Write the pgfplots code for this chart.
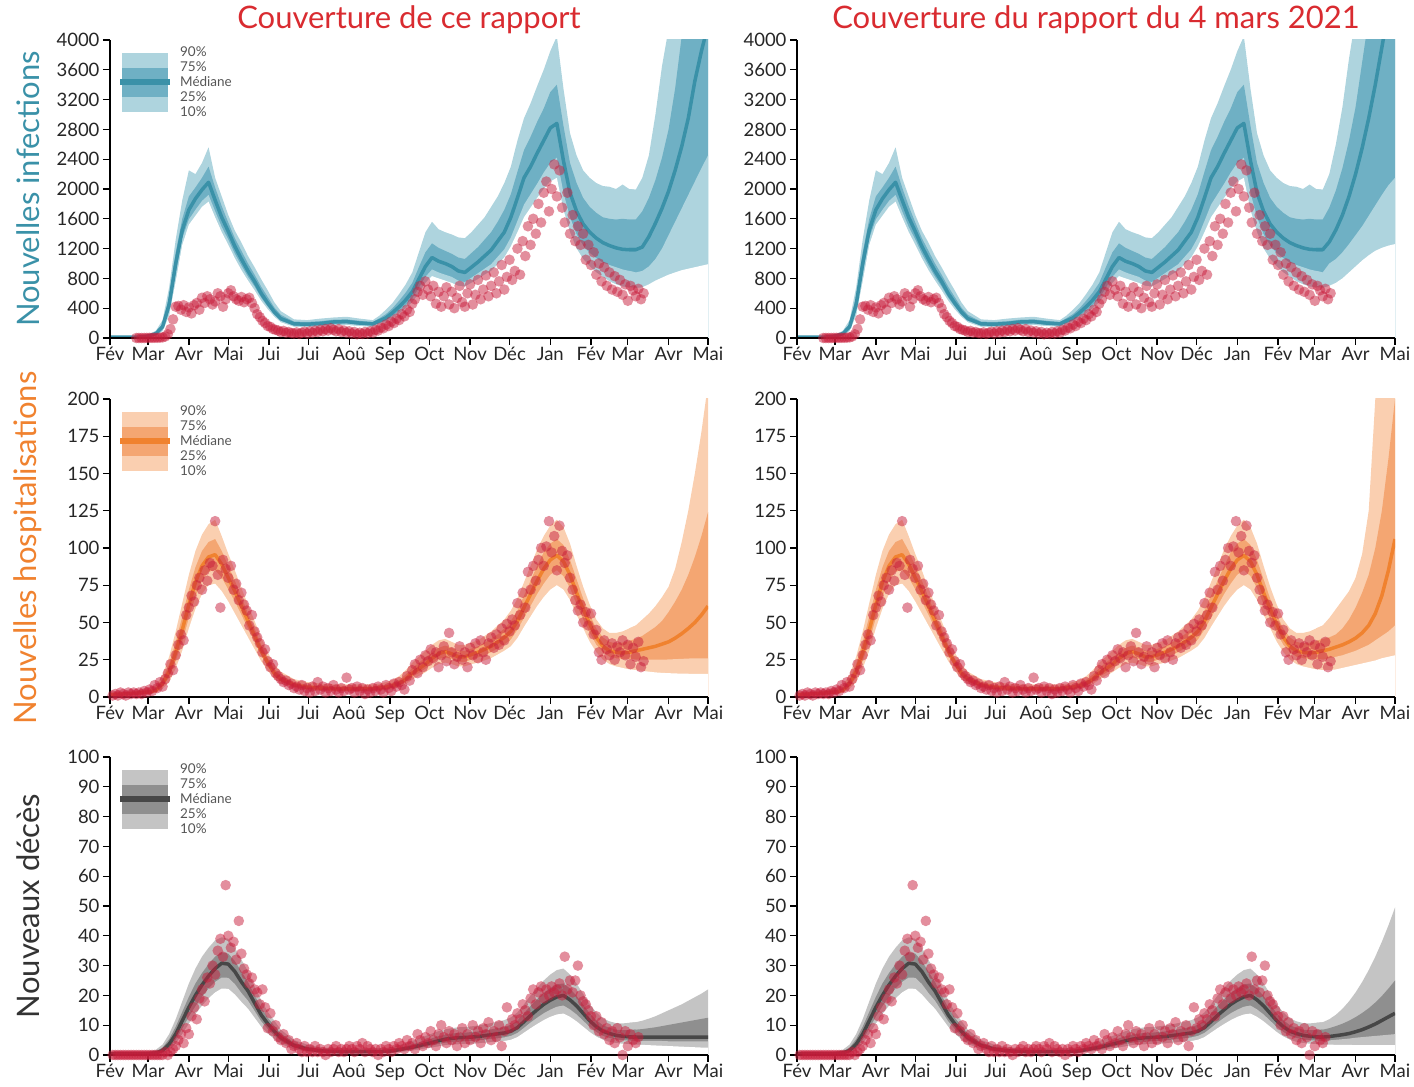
\documentclass[border=0pt]{standalone}
\usepackage{fontspec}
\setmainfont{Lato}
\usepackage{pgfplots}
\usepackage{pgfplotstable}
\pgfplotsset{compat=1.18}

\definecolor{infL}{HTML}{AED4DE}
\definecolor{infD}{HTML}{6FB0C4}
\definecolor{infM}{HTML}{3A91A8}
\definecolor{hosL}{HTML}{FACFB0}
\definecolor{hosD}{HTML}{F4A672}
\definecolor{hosM}{HTML}{F0822F}
\definecolor{decL}{HTML}{C4C4C4}
\definecolor{decD}{HTML}{8F8F8F}
\definecolor{decM}{HTML}{474747}
\definecolor{obs}{HTML}{C81E3C}
\definecolor{ttl}{HTML}{D92B30}
\definecolor{legt}{HTML}{555555}

% observed daily data (every 2 days)
\pgfplotstableread{
d inf hosp dec
2 nan 1 0
4 nan 2 0
6 nan 1 0
8 nan 3 0
10 nan 2 0
12 nan 1 0
14 nan 3 0
16 nan 2 0
18 nan 3 0
20 0 2 0
22 0 3 0
24 0 2 0
26 0 4 0
28 1 3 0
30 2 5 0
32 2 4 0
34 3 8 0
36 3 6 0
38 5 10 0
40 8 7 0
42 20 12 1
44 50 16 0
46 120 22 1
48 250 18 2
50 420 28 3
52 430 35 5
54 380 42 7
56 440 38 4
58 350 55 9
60 410 60 7
62 330 68 13
64 440 64 16
66 470 75 12
68 380 80 19
70 540 72 22
72 470 85 18
74 560 78 26
76 520 90 24
78 450 88 30
80 490 118 27
82 600 82 35
84 560 60 39
86 420 92 33
88 520 86 57
90 600 80 40
92 640 88 36
94 560 72 38
96 520 76 32
98 500 65 45
100 550 70 34
102 480 62 29
104 520 58 27
106 540 48 24
108 470 55 26
110 400 44 22
112 320 40 21
114 280 36 17
116 230 30 22
118 200 32 16
120 160 24 9
122 150 20 14
124 120 22 8
126 110 16 10
128 100 14 6
130 80 12 5
132 95 10 7
134 70 11 4
136 80 8 5
138 65 9 2
140 60 6 3
142 75 7 4
144 55 5 2
146 70 8 1
148 85 4 3
150 60 6 1
152 90 3 2
154 70 7 1
156 100 4 3
158 80 10 1
160 110 5 2
162 90 7 1
164 120 3 0
166 100 6 2
168 130 4 1
170 110 8 2
172 90 5 3
174 120 3 1
176 80 6 2
178 100 4 1
180 70 13 2
182 90 5 3
184 60 6 2
186 80 3 1
188 50 7 3
190 70 4 2
192 55 6 4
194 80 2 1
196 60 5 3
198 90 3 2
200 70 6 1
202 110 4 2
204 100 7 0
206 140 5 2
208 130 3 1
210 180 8 3
212 160 6 2
214 220 4 1
216 200 9 3
218 260 7 2
220 240 10 4
222 320 8 3
224 290 5 2
226 380 14 5
228 350 11 3
230 460 18 4
232 520 22 2
234 620 16 7
236 700 25 5
238 580 20 3
240 760 28 6
242 650 24 4
244 560 32 8
246 700 26 5
248 460 30 3
250 620 20 7
252 420 28 10
254 560 34 6
256 680 24 4
258 450 43 8
260 620 30 5
262 400 22 7
264 540 27 3
266 700 34 6
268 480 25 9
270 420 30 4
272 600 20 7
274 720 33 5
276 450 28 10
278 580 36 6
280 780 26 8
282 520 38 4
284 650 30 9
286 840 25 7
288 560 36 11
290 700 40 5
292 880 33 8
294 600 42 6
296 760 35 10
298 980 46 3
300 650 38 8
302 820 49 16
304 1050 44 9
306 780 52 12
308 900 48 10
310 1200 63 14
312 850 55 12
314 1300 70 17
316 1100 60 15
318 1500 84 13
320 1250 72 19
322 1600 88 22
324 1400 78 17
326 1800 92 21
328 1550 100 23
330 1950 88 19
332 2100 101 22
334 1700 118 20
336 2000 97 23
338 2330 108 21
340 1900 85 22
342 2250 115 24
344 1750 98 20
346 1550 90 33
348 1950 95 22
350 1400 80 25
352 1650 72 21
354 1300 65 25
356 1500 58 30
358 1250 62 20
360 1400 50 18
362 1050 57 17
364 1250 48 15
366 980 56 13
368 1150 42 10
370 850 45 13
372 1000 30 8
374 760 25 11
376 950 38 7
378 700 32 9
380 880 28 5
382 650 36 8
384 830 25 4
386 620 34 9
388 780 30 6
390 580 38 0
392 720 28 8
394 500 35 3
396 700 22 7
398 640 33 5
400 560 27 4
402 660 37 6
404 520 20 nan
406 600 24 nan
}\obs

% infections: historical bands
\pgfplotstableread{
d lo10 lo25 med hi75 hi90
0 6 8 10 12 15
10 7 9 11 13 16
20 7 9 12 15 18
25 8 10 15 20 25
30 15 20 30 40 50
35 35 45 60 80 100
40 90 115 150 190 240
45 300 360 450 560 680
50 760 860 1000 1150 1320
55 1250 1340 1450 1600 1850
60 1520 1590 1720 1900 2250
65 1640 1720 1870 2020 2200
70 1760 1840 1990 2150 2350
75 1830 1920 2090 2300 2560
80 1620 1700 1850 2020 2150
85 1420 1490 1620 1770 1900
90 1250 1320 1430 1550 1650
95 1070 1130 1230 1340 1440
100 910 970 1060 1170 1280
105 770 820 900 1000 1100
110 640 690 760 850 950
115 500 540 600 690 790
120 385 420 470 550 640
125 285 310 350 410 480
130 210 230 260 310 360
140 150 165 190 220 250
150 145 160 185 215 240
160 155 170 195 225 260
170 170 190 215 245 275
180 175 195 220 250 285
190 160 175 200 230 260
200 150 165 190 215 240
205 180 200 230 265 300
210 215 235 270 320 380
215 265 295 340 400 470
220 325 360 420 500 590
225 400 440 510 610 720
230 480 530 620 740 880
235 600 670 790 950 1150
240 740 820 960 1150 1420
245 830 920 1080 1270 1560
250 800 880 1030 1210 1460
255 770 850 1000 1170 1420
260 740 820 960 1130 1390
265 700 770 900 1080 1350
270 690 750 880 1060 1340
275 740 810 950 1140 1420
280 790 870 1020 1220 1520
285 850 930 1100 1320 1620
290 900 990 1180 1420 1760
295 990 1090 1300 1560 1900
300 1080 1190 1420 1720 2080
305 1230 1350 1620 1930 2300
310 1420 1570 1880 2230 2650
315 1620 1790 2150 2520 2950
320 1750 1930 2300 2700 3150
325 1880 2070 2480 2900 3380
330 2000 2220 2650 3080 3600
335 2100 2350 2820 3300 3850
340 2150 2420 2880 3400 4050
345 1720 1950 2380 2850 3350
350 1420 1620 1950 2350 2750
355 1200 1390 1700 2080 2450
360 1060 1240 1530 1880 2250
365 960 1140 1420 1760 2150
370 880 1070 1340 1680 2080
375 820 1010 1280 1620 2040
380 760 980 1240 1600 2030
385 720 950 1210 1590 2000
390 690 920 1190 1600 2060
395 680 900 1185 1590 2000
400 670 880 1185 1590 1990
}\infH
\pgfplotstableread{
d lo10 lo25 med hi75 hi90
395 680 900 1185 1590 2000
400 670 880 1185 1590 1990
405 680 900 1220 1700 2150
410 720 960 1360 1880 2450
415 770 1060 1540 2120 3000
420 810 1200 1740 2420 3650
425 850 1380 1970 2800 4150
430 880 1560 2250 3350 4600
435 910 1740 2570 4050 5100
440 930 1920 2950 4700 5600
445 950 2100 3450 5300 6100
450 970 2280 3850 5900 6600
455 990 2450 4200 6500 7000
}\infL
\pgfplotstableread{
d lo10 lo25 med hi75 hi90
395 680 900 1185 1590 2000
400 670 880 1185 1590 1990
405 700 1000 1290 1750 2200
410 740 1060 1450 1980 2600
415 800 1150 1650 2280 3100
420 880 1260 1900 2650 3750
425 960 1380 2200 3100 4300
430 1040 1500 2550 3700 4900
435 1110 1640 2950 4300 5500
440 1170 1780 3400 5000 6100
445 1210 1920 3900 5700 6700
450 1240 2050 4400 6400 7300
455 1260 2150 4900 7000 8000
}\infR

% hospitalisations
\pgfplotstableread{
d lo10 lo25 med hi75 hi90
0 0.5 1 1.5 2 3
10 1 1.5 2 2.5 3.5
20 1.5 2 2.5 3 4
25 1.7 2.2 3 4 5
30 2 2.6 3.5 4.5 6
35 2.8 3.5 4.5 6 8
40 5.5 7 9 12 15
45 10 13 17 22 27
50 19 24 30 37 44
55 31 37 45 54 63
60 46 53 62 72 82
65 59 67 77 87 98
70 69 78 88 98 109
75 75 84 94 104 116
80 76 85 95.5 106 119
85 71 80 89 98 108
90 64 72 80 88 96
95 56 64 71 78 85
100 48 55 61 67 73
105 40 46 51 56 62
110 32 37 41 46 51
115 24 28 31 35 40
120 17.5 20.5 23 26 30
125 12 14 16 19 22
130 9 10.5 12 14 17
140 6 7 8 10 12
150 4.5 5.5 6.5 8 10
160 4 5 6 7.5 9
170 3.8 4.5 5.5 7 8.5
180 3.8 4.5 5.5 7 8.5
190 3.8 4.5 5.5 7 8.5
200 3.8 4.5 5.5 7 8.5
205 4.2 5 6 7.5 9
210 4.6 5.5 6.5 8 10
215 5.2 6.2 7.5 9.5 11.5
220 6.3 7.5 9 11.5 14
225 8.5 10 12 15 18
230 11.5 13.5 16 19.5 23
235 14 16 19 23 27
240 16.5 19 22 26.5 31
245 19.5 22.5 26 30 35
250 22 25.5 29 33 38
255 23 26.5 30.5 34.5 39
260 22 25.5 29 33 37
265 20.5 23.5 27 31 35
270 20.5 23.5 27 31 35
275 22 25 28.5 32.5 36.5
280 23 26.5 30 34 38
285 24.5 28 32 36.5 41
290 26 30 34 39 44
295 28.5 32.5 37 42 48
300 31 35 40 46 52
305 34 38.5 44 51 58
310 39.5 45 51 58 66
315 47 53 60 68 77
320 54 61 69 78 88
325 61 69 78 88 99
330 67 76 86 97 108
335 72 82 92 103 115
340 75 85 95 106 119
345 72 81 91 102 114
350 65 73 82 92 103
355 55 62 70 79 88
360 46 52 59 66 74
365 37 43 49 55 62
370 30 35 40 46 52
375 25 30 34 40 46
380 22 27 31 37 43
385 20.5 26 30 36 43
390 19.5 25.5 29.5 36.5 44
395 18.5 25.5 30 37.5 46
400 18 25 31 39 48
}\hosH
\pgfplotstableread{
d lo10 lo25 med hi75 hi90
395 18.5 25.5 30 37.5 46
400 18 25 31 39 48
405 17.5 25 32 41 52
410 17 25 33 44 56
415 16.5 25 34 47 61
420 16.2 25 35.5 51 67
425 16 25.2 37 57 74
430 15.8 25.4 39.5 64 86
435 15.7 25.6 42.5 72 104
440 15.6 25.8 46 82 125
445 15.6 26 50 94 150
450 15.6 26 55 108 178
455 15.6 26 61 124 210
}\hosL
\pgfplotstableread{
d lo10 lo25 med hi75 hi90
395 18.5 25.5 30 37.5 46
400 18 25 31 39 48
405 18 26 32 40 53
410 18.5 27 33.5 42 59
415 19.5 28 35 46 65
420 20.5 29.5 37 52 71
425 21.5 31 39.5 60 80
430 22.5 33 43 70 96
435 23.5 35 48 82 125
440 24.5 38 56 100 200
445 26 41 68 125 260
450 27 44 85 160 300
455 28 48 106 200 340
}\hosR

% deaths
\pgfplotstableread{
d lo10 lo25 med hi75 hi90
0 0.2 0.3 0.5 0.8 1
10 0.2 0.3 0.5 0.8 1
20 0.2 0.3 0.5 0.8 1
25 0.2 0.3 0.5 0.8 1
30 0.2 0.3 0.5 0.9 1.2
35 0.2 0.4 0.7 1.2 1.8
40 0.5 0.9 1.5 2.5 3.5
45 1.6 2.3 3.6 5.3 7
50 3.8 5 7 9.5 12
55 7 8.8 11.5 14.5 18
60 10.5 12.8 16 19.5 24
65 13.7 16.3 20 24 29
70 16.5 19.5 23.5 27.5 33
75 19 22.3 26.5 30.5 36
80 21 24.5 29 33 38.5
85 22.3 26 30.8 34.5 39.5
90 22.2 25.9 30.5 34 39
95 20.3 23.8 28 31.5 36
100 17.8 20.8 24.5 28 32
105 15.5 18.2 21.5 24.5 28
110 12.5 14.8 17.5 20 23
115 9.5 11.3 13.5 16 18.5
120 7.2 8.7 10.5 12.5 14.5
125 5.3 6.5 8 9.8 11.5
130 3.7 4.6 5.8 7.2 8.5
140 1.9 2.5 3.2 4.1 5
150 1.1 1.5 2 2.7 3.5
160 0.7 1 1.4 2 2.6
170 0.5 0.8 1.2 1.7 2.3
180 0.5 0.7 1.1 1.6 2.2
190 0.5 0.7 1.1 1.6 2.2
200 0.5 0.7 1.1 1.6 2.2
205 0.55 0.75 1.15 1.7 2.3
210 0.6 0.8 1.2 1.8 2.4
215 0.7 1 1.4 2 2.7
220 1 1.3 1.8 2.5 3.3
225 1.2 1.6 2.2 3 4
230 1.5 1.9 2.6 3.6 4.7
235 1.8 2.3 3.1 4.2 5.5
240 2.2 2.8 3.7 4.9 6.4
245 2.5 3.2 4.2 5.6 7.2
250 2.9 3.7 4.8 6.3 8
255 3.3 4.1 5.3 6.8 8.6
260 3.5 4.4 5.6 7.2 9
265 3.6 4.5 5.8 7.4 9.3
270 3.7 4.6 5.9 7.5 9.4
275 3.8 4.7 6 7.7 9.6
280 3.9 4.9 6.2 7.9 9.9
285 4.1 5.1 6.5 8.3 10.3
290 4.3 5.4 6.8 8.6 10.7
295 4.5 5.6 7.1 9 11.2
300 4.7 5.9 7.4 9.4 11.7
305 5.1 6.4 8 10.1 12.6
310 6 7.4 9.2 11.6 14.3
315 7.5 9.1 11.2 14 17
320 9 10.9 13.3 16.5 20
325 10.4 12.5 15.2 18.7 22.5
330 11.7 14 17 20.8 25
335 12.8 15.2 18.4 22.5 27
340 13.6 16.2 19.5 23.7 28.5
345 13.9 16.6 20 24 29
350 12.8 15.3 18.5 22.3 27
355 11.3 13.6 16.5 19.8 24
360 9.5 11.5 14 16.9 20.5
365 7.7 9.4 11.5 14 17
370 6.2 7.7 9.5 11.7 14.3
375 5.1 6.4 8 10 12.3
380 4.4 5.7 7.2 9.1 11.3
385 4 5.2 6.6 8.5 10.7
390 3.8 5 6.3 8.3 10.6
395 3.6 4.8 6.1 8.4 10.8
400 3.5 4.7 6 8.5 11
}\decH
\pgfplotstableread{
d lo10 lo25 med hi75 hi90
395 3.6 4.8 6.1 8.4 10.8
400 3.5 4.7 6 8.5 11
405 3.4 4.7 6 8.7 11.5
410 3.3 4.7 6 9 12.2
415 3.2 4.7 6 9.3 13
420 3.1 4.7 6 9.7 14
425 3 4.6 6 10.1 15
430 2.9 4.6 6 10.5 16
435 2.8 4.6 6 10.9 17
440 2.7 4.6 6 11.3 18.2
445 2.6 4.6 6 11.7 19.4
450 2.5 4.6 6 12.1 20.6
455 2.5 4.6 6 12.5 22
}\decL
\pgfplotstableread{
d lo10 lo25 med hi75 hi90
395 3.6 4.8 6.1 8.4 10.8
400 3.5 4.7 6 8.5 11
405 3.5 4.9 6.2 9 12
410 3.4 5.1 6.5 9.7 13.5
415 3.4 5.3 6.8 10.5 15.5
420 3.4 5.5 7.2 11.5 18
425 3.3 5.8 7.8 12.7 21
430 3.3 6 8.5 14.1 24.5
435 3.3 6.2 9.4 15.7 28.5
440 3.3 6.4 10.4 17.6 33
445 3.3 6.6 11.6 19.8 38
450 3.3 6.8 12.8 22.3 43.5
455 3.3 7 14 25 49.5
}\decR

% #1 historical table, #2 projection table, #3 light colour, #4 dark colour
\newcommand{\bands}[4]{%
  \addplot[fill=#3, draw=none] table[x=d,y=hi90]{#1} \closedcycle;
  \addplot[fill=#3, draw=none] table[x=d,y=hi90]{#2} \closedcycle;
  \addplot[fill=#4, draw=none] table[x=d,y=hi75]{#1} \closedcycle;
  \addplot[fill=#4, draw=none] table[x=d,y=hi75]{#2} \closedcycle;
  \addplot[fill=#3, draw=none] table[x=d,y=lo25]{#1} \closedcycle;
  \addplot[fill=#3, draw=none] table[x=d,y=lo25]{#2} \closedcycle;
  \addplot[fill=white, draw=none] table[x=d,y=lo10]{#1} \closedcycle;
  \addplot[fill=white, draw=none] table[x=d,y=lo10]{#2} \closedcycle;
}
\newcommand{\medline}[2]{%
  \addplot[#2, line width=3.5pt, line join=round] table[x=d,y=med]{#1};
}
\newcommand{\obsplot}[1]{%
  \addplot[obs, only marks, mark=*, mark size=5.3pt,
    mark options={draw opacity=0, fill=obs, fill opacity=0.5}] table[x=d,y=#1]{\obs};
}
\newcommand{\legendbox}[3]{%
  \fill[#1] (rel axis cs:0.020,0.758) rectangle (rel axis cs:0.097,0.956);
  \fill[#2] (rel axis cs:0.020,0.809) rectangle (rel axis cs:0.097,0.906);
  \draw[#3, line width=6pt] (rel axis cs:0.017,0.859) -- (rel axis cs:0.100,0.859);
  \node[legtxt] at (rel axis cs:0.117,0.962) {90\%};
  \node[legtxt] at (rel axis cs:0.117,0.911) {75\%};
  \node[legtxt] at (rel axis cs:0.117,0.861) {Médiane};
  \node[legtxt] at (rel axis cs:0.117,0.811) {25\%};
  \node[legtxt] at (rel axis cs:0.117,0.760) {10\%};
}

\tikzset{legtxt/.style={anchor=west, inner sep=0pt, text=legt, font=\fontsize{13.5}{14}\selectfont}}

\pgfplotsset{
  panel/.style={
    scale only axis, width=598pt, height=298pt,
    xmin=0, xmax=455, ymin=0,
    axis x line*=bottom, axis y line*=left,
    axis line style={-, line width=1.5pt, black},
    axis on top,
    tick align=outside,
    major tick length=7pt,
    every tick/.style={black, line width=1.3pt},
    xtick={0,29,60,90,121,151,182,213,243,274,304,335,366,394,425,455},
    xticklabels={Fév,Mar,Avr,Mai,Jui,Jui,Aoû,Sep,Oct,Nov,Déc,Jan,Fév,Mar,Avr,Mai},
    ticklabel style={font=\fontsize{18.5}{21}\selectfont, text=black!85},
    x tick label style={inner sep=2pt},
    scaled y ticks=false,
    /pgf/number format/assume math mode=true,
    /pgf/number format/1000 sep={},
    title style={at={(0.5,1)}, anchor=south, yshift=0pt, inner sep=0pt,
      font=\fontsize{31}{34}\selectfont, text=ttl},
    every axis y label/.style={at={(axis description cs:-0.137,0.5)}, rotate=90,
      anchor=center, font=\fontsize{31}{34}\selectfont},
  },
  infax/.style={panel, ymax=4000, ytick={0,400,...,4000}},
  hosax/.style={panel, ymax=200, ytick={0,25,...,200}},
  decax/.style={panel, ymax=100, ytick={0,10,...,100}},
}

\begin{document}
\begin{tikzpicture}
\path[use as bounding box] (0,0) rectangle (1414pt,1087pt);

% ---------- row 1 : infections ----------
\begin{axis}[infax, at={(110pt,749pt)}, anchor=south west,
  title={Couverture de ce rapport},
  ylabel={Nouvelles infections}, ylabel style={text=infM}]
  \bands{\infH}{\infL}{infL}{infD}
  \medline{\infH}{infM}
  \medline{\infL}{infM}
  \obsplot{inf}
  \legendbox{infL}{infD}{infM}
\end{axis}
\begin{axis}[infax, at={(797pt,749pt)}, anchor=south west,
  title={Couverture du rapport du 4 mars 2021}]
  \bands{\infH}{\infR}{infL}{infD}
  \medline{\infH}{infM}
  \medline{\infR}{infM}
  \obsplot{inf}
\end{axis}

% ---------- row 2 : hospitalisations ----------
\begin{axis}[hosax, at={(110pt,390pt)}, anchor=south west,
  ylabel={Nouvelles hospitalisations}, ylabel style={text=hosM}]
  \bands{\hosH}{\hosL}{hosL}{hosD}
  \medline{\hosH}{hosM}
  \medline{\hosL}{hosM}
  \obsplot{hosp}
  \legendbox{hosL}{hosD}{hosM}
\end{axis}
\begin{axis}[hosax, at={(797pt,390pt)}, anchor=south west]
  \bands{\hosH}{\hosR}{hosL}{hosD}
  \medline{\hosH}{hosM}
  \medline{\hosR}{hosM}
  \obsplot{hosp}
\end{axis}

% ---------- row 3 : deaths ----------
\begin{axis}[decax, at={(110pt,32pt)}, anchor=south west,
  ylabel={Nouveaux décès}, ylabel style={text=black!80}]
  \bands{\decH}{\decL}{decL}{decD}
  \medline{\decH}{decM}
  \medline{\decL}{decM}
  \obsplot{dec}
  \legendbox{decL}{decD}{decM}
\end{axis}
\begin{axis}[decax, at={(797pt,32pt)}, anchor=south west]
  \bands{\decH}{\decR}{decL}{decD}
  \medline{\decH}{decM}
  \medline{\decR}{decM}
  \obsplot{dec}
\end{axis}
\end{tikzpicture}
\end{document}
